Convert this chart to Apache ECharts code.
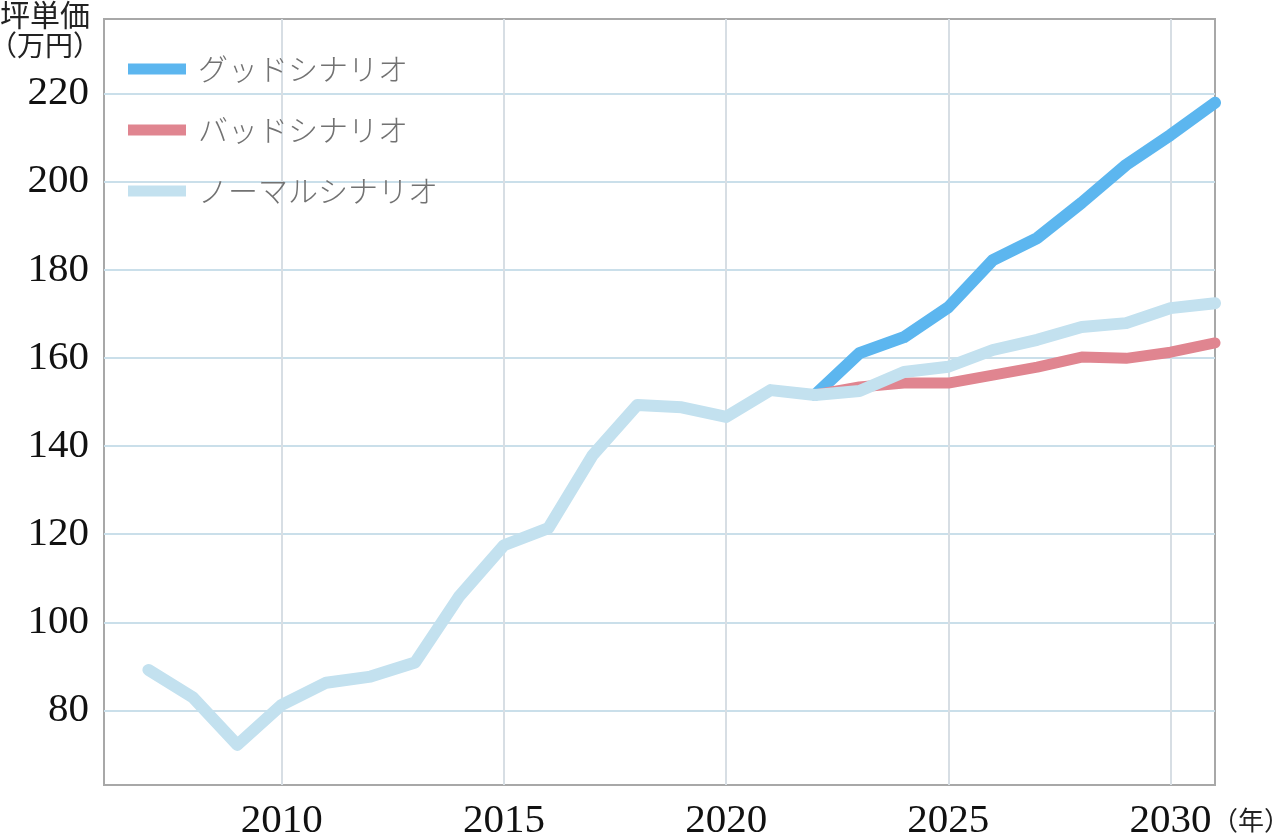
<!DOCTYPE html>
<html>
<head>
<meta charset="utf-8">
<script src="https://cdn.jsdelivr.net/npm/echarts@6/dist/echarts.min.js"></script>
<style>
html,body{margin:0;padding:0;background:#fff;}
#c{width:1279px;height:838px;}
</style>
</head>
<body>
<div id="c"></div>
<script>
const seriesNames = ['グッドシナリオ', 'バッドシナリオ', 'ノーマルシナリオ'];
const normalYears = [2007,2008,2009,2010,2011,2012,2013,2014,2015,2016,2017,2018,2019,2020,2021,2022,2023,2024,2025,2026,2027,2028,2029,2030,2031];
const normalValues = [89.2,83.0,72.2,81.3,86.3,87.7,90.9,106.0,117.5,121.4,138.0,149.3,148.8,146.6,152.7,151.6,152.5,156.8,158.0,161.8,164.1,167.0,167.9,171.3,172.4];
const scenarioYears = [2022,2023,2024,2025,2026,2027,2028,2029,2030,2031];
const goodValues = [151.6,161.1,164.7,171.5,182.2,187.2,195.2,203.8,210.6,217.9];
const badValues = [151.6,153.4,154.3,154.3,156.1,157.9,160.2,159.9,161.3,163.4];
const yAxisTitle = ['坪単価', '（万円）'];
const xAxisUnit = '（年）';

const pairs = (xs, ys) => xs.map((x, i) => [x, ys[i]]);
const colors = ['#5cb6ef', '#e08590', '#c3e1ef'];

const chart = echarts.init(document.getElementById('c'));
chart.setOption({
  animation: false,
  backgroundColor: '#ffffff',
  grid: {
    left: 104, right: 64, top: 19, bottom: 53,
    containLabel: false,
    outerBoundsMode: 'none',
    show: true,
    borderColor: '#a8a8a8',
    borderWidth: 2,
    backgroundColor: 'transparent'
  },
  legend: {
    orient: 'vertical',
    left: 128,
    top: 53,
    padding: 0,
    itemWidth: 58,
    itemHeight: 11,
    itemGap: 29,
    icon: 'rect',
    data: seriesNames,
    textStyle: {
      fontFamily: 'Noto Sans CJK JP',
      fontSize: 30,
      fontWeight: 300,
      lineHeight: 32,
      color: '#727272',
      padding: [0, 0, 0, 7]
    }
  },
  xAxis: {
    type: 'value',
    min: 2006,
    max: 2031,
    splitNumber: 5,
    minInterval: 5,
    maxInterval: 5,
    axisLine: { show: false },
    axisTick: { show: false },
    axisLabel: {
      showMinLabel: false,
      showMaxLabel: false,
      margin: 16,
      fontFamily: 'Liberation Serif',
      fontSize: 41,
      color: '#111',
      formatter: v => String(v)
    },
    splitLine: {
      show: true,
      showMinLine: false,
      showMaxLine: false,
      lineStyle: { color: '#d7dee4', width: 2 }
    }
  },
  yAxis: {
    type: 'value',
    min: 63.1,
    max: 236.9,
    splitNumber: 9,
    minInterval: 20,
    maxInterval: 20,
    axisLine: { show: false },
    axisTick: { show: false },
    axisLabel: {
      showMinLabel: false,
      showMaxLabel: false,
      margin: 15,
      fontFamily: 'Liberation Serif',
      fontSize: 41,
      color: '#111',
      formatter: v => String(v)
    },
    splitLine: {
      show: true,
      showMinLine: false,
      showMaxLine: false,
      lineStyle: { color: '#cadfea', width: 2 }
    }
  },
  graphic: [
    { type: 'text', left: 0, top: 0, style: { text: yAxisTitle[0], font: '30px "Noto Sans CJK JP"', fill: '#222' } },
    { type: 'text', left: -11, top: 31, style: { text: yAxisTitle[1], font: '28px "Noto Sans CJK JP"', fill: '#222' } },
    { type: 'text', left: 1212, top: 807, style: { text: xAxisUnit, font: '26px "Noto Sans CJK JP"', fill: '#222' } }
  ],
  series: [
    {
      name: seriesNames[0], type: 'line', symbol: 'none', z: 2,
      data: pairs(scenarioYears, goodValues),
      itemStyle: { color: colors[0] },
      lineStyle: { color: colors[0], width: 12, cap: 'round', join: 'round' }
    },
    {
      name: seriesNames[1], type: 'line', symbol: 'none', z: 3,
      data: pairs(scenarioYears, badValues),
      itemStyle: { color: colors[1] },
      lineStyle: { color: colors[1], width: 11, cap: 'round', join: 'round' }
    },
    {
      name: seriesNames[2], type: 'line', symbol: 'none', z: 4,
      data: pairs(normalYears, normalValues),
      itemStyle: { color: colors[2] },
      lineStyle: { color: colors[2], width: 12, cap: 'round', join: 'round' }
    }
  ]
});
</script>
</body>
</html>
